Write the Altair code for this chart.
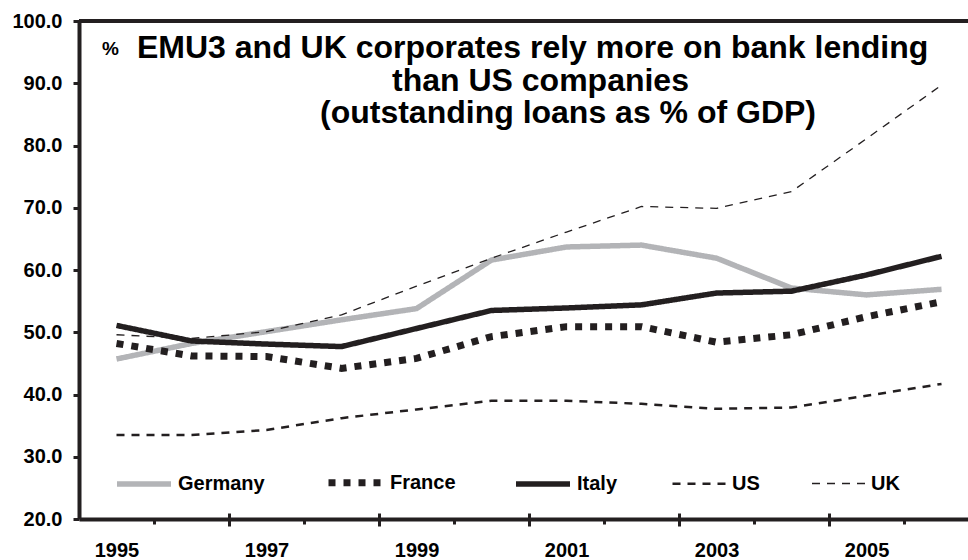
import altair as alt
import pandas as pd

# ---------------- data ----------------
years = list(range(1995, 2007))
germany = [45.7, 48.2, 50.1, 52.0, 53.8, 61.6, 63.7, 64.0, 61.9, 57.1, 56.0, 56.9]
france = [48.2, 46.2, 46.1, 44.2, 45.8, 49.3, 50.9, 50.9, 48.4, 49.6, 52.5, 54.9]
italy = [51.1, 48.6, 48.1, 47.7, 50.6, 53.5, 53.9, 54.4, 56.3, 56.6, 59.2, 62.2]
us = [33.5, 33.5, 34.3, 36.2, 37.6, 39.0, 39.0, 38.5, 37.7, 37.9, 39.8, 41.7]
uk = [49.6, 49.0, 50.1, 52.8, 57.4, 61.9, 66.1, 70.2, 69.9, 72.6, 81.1, 89.7]

series_names = ["Germany", "France", "Italy", "US", "UK"]
series_values = [germany, france, italy, us, uk]

y_ticks = [20, 30, 40, 50, 60, 70, 80, 90, 100]
x_label_years = [1995, 1997, 1999, 2001, 2003, 2005]
x_minor_ticks = [1995.5, 1997.5, 1999.5, 2001.5, 2003.5, 2005.5]
x_major_ticks = [1996.5, 1998.5, 2000.5, 2002.5, 2004.5]

title_pct = "%"
title_lines = [
    "EMU3 and UK corporates rely more on bank lending",
    "than US companies",
    "(outstanding loans as % of GDP)",
]

# ---------------- styles ----------------
INK = "#231f20"
FONT = "Liberation Sans"
series_colors = ["#b3b4b7", INK, INK, INK, INK]
series_widths = [5.5, 7, 5.5, 2.5, 1.3]
series_dashes = [[1, 0], [7, 8], [1, 0], [8, 7], [8, 7]]

W, H = 889, 498

rows = []
for name, vals in zip(series_names, series_values):
    for yr, v in zip(years, vals):
        rows.append({"year": yr, "value": v, "series": name})
df = pd.DataFrame(rows)

xscale = alt.Scale(domain=[1994.5, 2006.353], nice=False, zero=False)
yscale = alt.Scale(domain=[20, 100], nice=False, zero=False)

yaxis = alt.Axis(values=y_ticks, format=".1f", title=None, grid=False,
                 domain=True, domainWidth=4, domainColor=INK,
                 ticks=True, tickSize=6, tickWidth=3, tickColor=INK,
                 labelPadding=11, labelFont=FONT, labelFontWeight="bold",
                 labelFontSize=20, labelColor="black")

legend = alt.Legend(orient="none", legendX=35, legendY=431, direction="horizontal",
                    title=None, symbolType="stroke", symbolSize=2916,
                    labelFont=FONT, labelFontWeight="bold", labelFontSize=20,
                    labelColor="black", labelOffset=4, columnPadding=49, padding=0)

lines = alt.Chart(df).mark_line(strokeCap="butt").encode(
    x=alt.X("year:Q", scale=xscale,
            axis=alt.Axis(orient="bottom", values=x_minor_ticks, labels=False, title=None,
                          grid=False, domainWidth=4, domainColor=INK,
                          tickSize=5, tickWidth=3, tickColor=INK)),
    y=alt.Y("value:Q", scale=yscale, axis=yaxis),
    color=alt.Color("series:N", scale=alt.Scale(type="ordinal", domain=series_names, range=series_colors), legend=legend),
    strokeDash=alt.StrokeDash("series:N", scale=alt.Scale(type="ordinal", domain=series_names, range=series_dashes), legend=legend),
    strokeWidth=alt.StrokeWidth("series:N", scale=alt.Scale(type="ordinal", domain=series_names, range=series_widths), legend=legend),
)

major = alt.Chart(df).mark_point(opacity=0, size=1).encode(
    x=alt.X("year:Q", scale=xscale,
            axis=alt.Axis(orient="bottom", values=x_major_ticks, labels=False, title=None,
                          grid=False, domain=False, offset=-6,
                          tickSize=13, tickWidth=3, tickColor=INK)),
    y=alt.value(0),
)

labels_layer = alt.Chart(df).mark_point(opacity=0, size=1).encode(
    x=alt.X("year:Q", scale=xscale,
            axis=alt.Axis(orient="bottom", values=x_label_years, format="d", title=None,
                          grid=False, domain=False, ticks=False, tickSize=0,
                          labelPadding=21, labelFont=FONT, labelFontWeight="bold",
                          labelFontSize=20, labelColor="black")),
    y=alt.value(0),
)

top_rule = alt.Chart(pd.DataFrame({"v": [100]})).mark_rule(color=INK, strokeWidth=4).encode(
    y=alt.Y("v:Q", scale=yscale, axis=yaxis)
)


def text_layer(s, x, y, size):
    return alt.Chart(pd.DataFrame({"t": [s]})).mark_text(
        align="left", baseline="alphabetic", font=FONT, fontWeight="bold",
        fontSize=size, color="black"
    ).encode(x=alt.value(x), y=alt.value(y), text="t:N")


texts = [
    text_layer(title_pct, 23, 34, 19),
    text_layer(title_lines[0], 58, 37, 32),
    text_layer(title_lines[1], 313, 70, 32),
    text_layer(title_lines[2], 241, 102, 32),
]

chart = alt.layer(lines, major, labels_layer, top_rule, *texts).resolve_axis(
    x="independent"
).properties(
    width=W, height=H, autosize="none",
    padding={"left": 79, "top": 21, "right": 0, "bottom": 41},
    background="white",
).configure_view(stroke=None)

chart.save("out.html", embed_options={"renderer": "svg", "actions": False})
